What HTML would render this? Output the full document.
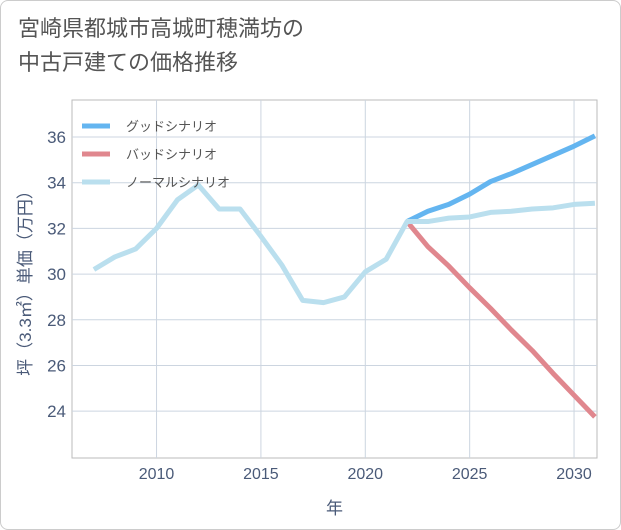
<!DOCTYPE html>
<html><head><meta charset="utf-8"><style>
body{margin:0;background:#fff;font-family:"Liberation Sans","Noto Sans CJK JP",sans-serif}
#card{position:absolute;left:0;top:0;width:619px;height:528px;border:1px solid #ccc;border-radius:8px;background:#fff}
#title{position:absolute;left:18px;top:12px;font-size:22px;line-height:34px;color:#555;font-family:"Liberation Sans","Noto Sans CJK JP",sans-serif}
</style></head><body>
<div id="card"></div>
<div id="title">宮崎県都城市高城町穂満坊の<br>中古戸建ての価格推移</div>
<svg id="chart" width="621" height="530" style="position:absolute;left:0;top:0"></svg>
<script>
const years=[2007,2008,2009,2010,2011,2012,2013,2014,2015,2016,2017,2018,2019,2020,2021,2022,2023,2024,2025,2026,2027,2028,2029,2030,2031];
const normalValues=[30.2,30.75,31.1,32.0,33.25,33.9,32.85,32.85,31.65,30.4,28.85,28.75,29.0,30.1,30.65,32.3,32.3,32.45,32.5,32.7,32.75,32.85,32.9,33.05,33.1];
const goodYears=[2022,2023,2024,2025,2026,2027,2028,2029,2030,2031];
const goodValues=[32.3,32.75,33.05,33.5,34.05,34.4,34.8,35.2,35.6,36.05];
const badValues=[32.3,31.2,30.35,29.4,28.5,27.55,26.65,25.65,24.7,23.75];
const xTicks=[2010,2015,2020,2025,2030];
const yTicks=[24,26,28,30,32,34,36];
const legendLabels=["グッドシナリオ","バッドシナリオ","ノーマルシナリオ"];
const NS="http://www.w3.org/2000/svg";
const svg=document.getElementById('chart');
const L=72,R=597,T=100,B=458;
const x=v=>L+(v-2005.95)/(2031.1-2005.95)*(R-L);
const y=v=>B-(v-21.95)/(37.62-21.95)*(B-T);
function mk(tag,attrs){const e=document.createElementNS(NS,tag);for(const k in attrs)e.setAttribute(k,attrs[k]);svg.appendChild(e);return e;}
const bg=mk('rect',{x:L,y:T,width:R-L,height:B-T,fill:'#fff',stroke:'#bbb'});


xTicks.forEach(t=>{
 const g=mk('line',{x1:x(t),x2:x(t),y1:T,y2:B,stroke:'#ccd5e0','stroke-width':1});
 
 
 const tx=mk('text',{x:x(t),y:B+21,'text-anchor':'middle','font-size':16,fill:'#4a5a78'});
 tx.textContent=t;
 
 
});
yTicks.forEach(t=>{
 const g=mk('line',{x1:L,x2:R,y1:y(t),y2:y(t),stroke:'#ccd5e0','stroke-width':1});
 
 
 const tx=mk('text',{x:L-6,y:y(t)+6,'text-anchor':'end','font-size':17,fill:'#4a5a78'});
 tx.textContent=t;
 
 
});
function line(xs,vs,color,name){
 const p=mk('polyline',{points:xs.map((v,i)=>x(v)+','+y(vs[i])).join(' '),fill:'none',stroke:color,'stroke-width':5,'stroke-linejoin':'round'});
 
 
}
line(goodYears,badValues,'#e0878e','bad-scenario-line');
line(goodYears,goodValues,'#64b5f0','good-scenario-line');
line(years,normalValues,'#badfee','normal-scenario-line');
const colors=['#64b5f0','#e0878e','#badfee'];
legendLabels.forEach((lab,i)=>{
 const ly=126+i*28;
 const s=mk('line',{x1:82,x2:110,y1:ly,y2:ly,stroke:colors[i],'stroke-width':5});
 
 
 const t=mk('text',{x:126,y:ly+5,'font-size':13,fill:'#555'});
 t.textContent=lab;
 
 
});
const xt=mk('text',{x:(L+R)/2,y:B+56,'text-anchor':'middle','font-size':17,fill:'#4a5a78'});
xt.textContent='年';


const yt=mk('text',{x:0,y:0,'text-anchor':'middle','font-size':17,fill:'#4a5a78',transform:`translate(31,${(T+B)/2}) rotate(-90)`});
yt.textContent='坪（3.3㎡）単価（万円）';


</script>
</body></html>
